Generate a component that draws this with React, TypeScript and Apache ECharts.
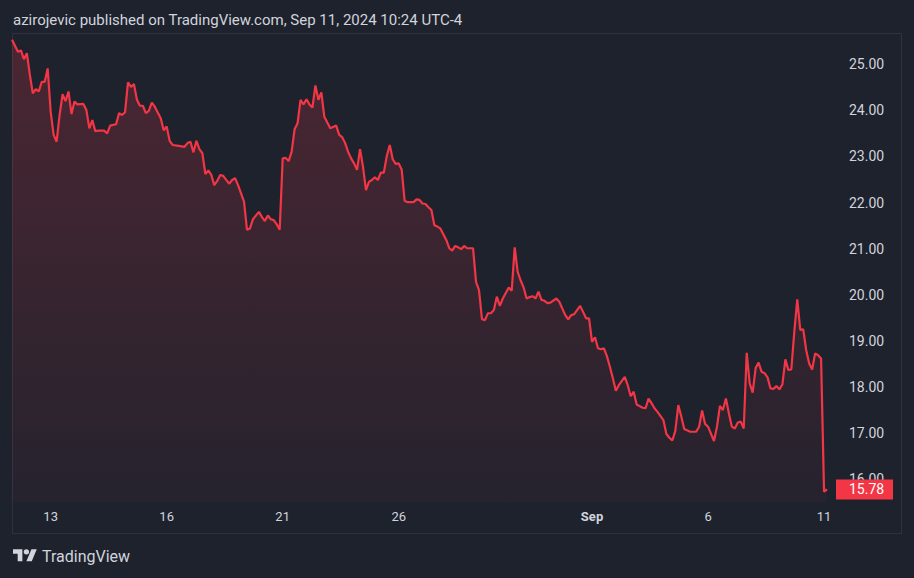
import React, { useEffect, useRef } from 'react';
import * as echarts from 'echarts';

// 30-minute bar index (13 bars per trading day, Aug 12 = day 0) and close price at that bar
const barIndex = [
  0, 2, 3, 4, 5, 6, 7, 8, 9, 10, 11, 12, 13, 14, 15, 16, 17, 18, 19, 20, 21, 22, 24, 25, 26, 27, 28, 29, 31, 32, 33, 35, 36, 37, 38, 39, 40, 41, 42, 43, 44, 45, 46, 47, 48, 50, 51, 52, 53, 54, 56, 58, 59, 60,
  61, 62, 63, 64, 65, 66, 67, 68, 69, 70, 71, 73, 74, 75, 76, 77, 78, 79, 80, 81, 83, 84, 85, 86, 87, 88, 89, 90,
  91, 92, 93, 94, 95, 96, 97, 98, 99, 100, 101, 102, 103, 104, 105, 107, 109, 110, 111, 112, 113, 114, 115, 116, 117, 118, 119, 120,
  121, 122, 123, 124, 125, 126, 127, 128, 129, 130, 131, 132, 133, 135, 136, 137, 138, 139, 140, 141, 142, 143, 144, 146, 147, 148, 149, 150,
  151, 152, 153, 155, 156, 157, 158, 159, 160, 161, 162, 163, 164, 165, 167, 168, 169, 170, 171, 172, 173, 174, 175, 176, 177, 178, 179, 180,
  181, 183, 184, 186, 187, 188, 189, 191, 192, 193, 194, 195, 196, 197, 198, 199, 200, 201, 202, 203, 204, 206, 207, 208, 209, 210,
  212, 213, 214, 215, 216, 217, 219, 220, 221, 222, 223, 224, 225, 226, 228, 230, 231, 232, 233, 234, 236, 237, 238, 239, 240,
  241, 242, 243, 244, 245, 246, 247, 248, 249, 250, 251, 252, 253, 254, 255, 256, 257, 258, 259, 260, 261, 262, 263, 264, 265, 266, 267, 268, 269, 270,
  271, 272, 273, 274,
];
const price = [
  25.53, 25.27, 25.30, 25.11, 25.24, 24.77, 24.37, 24.46, 24.41, 24.62, 24.62, 24.91, 23.97, 23.47, 23.32, 23.90, 24.35, 24.20, 24.41, 23.92, 24.19, 24.13, 24.14, 24.01, 23.61, 23.79, 23.55, 23.56, 23.56, 23.50, 23.67, 23.70, 23.94, 23.90, 23.96, 24.61, 24.51, 24.57, 24.23, 24.10, 24.10, 23.94, 23.99, 24.17, 24.08, 23.83, 23.57, 23.65, 23.34, 23.25, 23.23, 23.21, 23.29, 23.32,
  23.09, 23.34, 23.16, 23.07, 22.62, 22.70, 22.60, 22.38, 22.47, 22.60, 22.58, 22.41, 22.49, 22.53, 22.38, 22.20, 22.02, 21.41, 21.44, 21.64, 21.80, 21.69, 21.60, 21.72, 21.64, 21.62, 21.53, 21.41,
  22.96, 22.97, 22.90, 23.10, 23.59, 23.72, 24.23, 24.13, 24.24, 24.13, 24.06, 24.54, 24.23, 24.39, 23.86, 23.61, 23.67, 23.47, 23.42, 23.29, 23.10, 22.96, 22.85, 22.71, 23.16, 22.78, 22.27, 22.45,
  22.49, 22.55, 22.49, 22.65, 22.65, 23.01, 23.25, 22.94, 22.84, 22.85, 22.72, 22.04, 22.01, 22.01, 22.07, 22.06, 21.98, 21.97, 21.90, 21.84, 21.51, 21.48, 21.44, 21.19, 21.01, 20.96, 21.06, 21.03,
  20.99, 21.06, 21.01, 21.01, 20.28, 20.10, 19.47, 19.45, 19.60, 19.60, 19.67, 19.96, 19.76, 19.92, 20.16, 20.09, 21.03, 20.50, 20.31, 20.16, 19.92, 19.95, 19.97, 19.92, 20.07, 19.89, 19.87, 19.82,
  19.83, 19.92, 19.85, 19.56, 19.47, 19.56, 19.58, 19.76, 19.63, 19.49, 19.49, 18.98, 19.08, 18.84, 18.82, 18.84, 18.67, 18.44, 18.19, 17.92, 18.04, 18.22, 18.04, 17.80, 17.90, 17.62,
  17.55, 17.54, 17.75, 17.65, 17.54, 17.46, 17.28, 16.98, 16.90, 16.84, 17.05, 17.61, 17.36, 17.09, 17.03, 17.03, 17.14, 17.49, 17.20, 17.14, 16.83, 17.14, 17.59, 17.50, 17.75,
  17.43, 17.14, 17.10, 17.23, 17.25, 17.10, 18.74, 18.08, 17.88, 18.41, 18.53, 18.33, 18.30, 18.21, 17.97, 17.96, 18.02, 17.95, 18.06, 18.60, 18.37, 18.38, 19.20, 19.90, 19.24, 19.25, 18.80, 18.51, 18.38, 18.73,
  18.69, 18.62, 15.73, 15.78,
];

// x-axis labels at the first bar of the labelled trading days
const dayLabelBars = [13, 52, 91, 130, 195, 234, 273];
const dayLabels = ['13', '16', '21', '26', 'Sep', '6', '11'];

const lastPrice = 15.78;
const titleText = 'azirojevic published on TradingView.com, Sep 11, 2024 10:24 UTC-4';
const brandText = 'TradingView';

const BG = '#1e222d';
const TXT = '#d1d4dc';
const RED = '#f23645';
const FONT = 'Roboto, "Liberation Sans", sans-serif';

let logoRegistered = false;

export default function App() {
  const ref = useRef<HTMLDivElement>(null);

  useEffect(() => {
    if (!ref.current) return;
    if (!logoRegistered) {
      echarts.graphic.registerShape(
        'tvlogo',
        echarts.graphic.extendPath('M14 22H7V11H0V4h14v18zM28 22h-8l7.5-18h8L28 22zM24 8a4 4 0 1 1-8 0a4 4 0 1 1 8 0z', {})
      );
      logoRegistered = true;
    }
    const chart = echarts.init(ref.current, undefined, { renderer: 'svg' });
    const data = barIndex.map((b, i) => [b, price[i]]);

    chart.setOption({
      animation: false,
      backgroundColor: BG,
      grid: { left: 12, right: 84, top: 32, bottom: 75.7, containLabel: false },
      xAxis: {
        type: 'value',
        min: 0,
        max: 275,
        interval: 13,
        axisLine: { show: false },
        axisTick: { show: false },
        splitLine: { show: false },
        axisLabel: {
          color: TXT,
          fontFamily: FONT,
          fontSize: 13,
          margin: 8,
          formatter: (v: number) => {
            const k = dayLabelBars.indexOf(v);
            if (k < 0) return '';
            return dayLabels[k] === 'Sep' ? '{b|Sep}' : dayLabels[k];
          },
          rich: { b: { fontWeight: 'bold', color: TXT, fontFamily: FONT, fontSize: 13 } },
        },
      },
      yAxis: {
        type: 'value',
        position: 'right',
        min: 15.5,
        max: 25.7,
        interval: 0.5,
        axisLine: { show: false },
        axisTick: { show: false },
        splitLine: { show: false },
        axisLabel: {
          color: TXT,
          fontFamily: FONT,
          fontSize: 14,
          margin: 19,
          formatter: (v: number) => (Math.abs(v % 1) < 1e-9 && v >= 16 && v <= 25 ? v.toFixed(2) : ''),
        },
      },
      series: [
        {
          type: 'line',
          data,
          showSymbol: false,
          symbol: 'none',
          lineStyle: { color: RED, width: 2.2 },
          areaStyle: {
            origin: 'start',
            color: new echarts.graphic.LinearGradient(0, 0, 0, 1, [
              { offset: 0, color: 'rgba(242,54,69,0.30)' },
              { offset: 1, color: 'rgba(242,54,69,0.05)' },
            ]),
          },
          z: 3,
        },
      ],
    });

    const yLast = chart.convertToPixel({ yAxisIndex: 0 }, lastPrice) as number;

    chart.setOption({
      graphic: [
        {
          type: 'rect',
          shape: { x: 12.5, y: 33.5, width: 889, height: 500 },
          style: { fill: 'none', stroke: '#2e3240', lineWidth: 1 },
          z: 1,
          silent: true,
        },
        {
          type: 'text',
          x: 13,
          y: 20,
          style: { text: titleText, fill: TXT, font: `15px ${FONT}`, verticalAlign: 'middle', align: 'left' },
        },
        {
          type: 'rect',
          shape: { x: 836, y: yLast - 10, width: 57, height: 20 },
          style: { fill: RED },
          z: 10,
        },
        {
          type: 'text',
          x: 849,
          y: yLast,
          z: 11,
          style: { text: lastPrice.toFixed(2), fill: '#ffffff', font: `14px ${FONT}`, verticalAlign: 'middle', align: 'left' },
        },
        {
          type: 'tvlogo',
          x: 13,
          y: 546.5,
          scaleX: 0.67,
          scaleY: 0.67,
          style: { fill: TXT },
        },
        {
          type: 'text',
          x: 42,
          y: 556,
          style: { text: brandText, fill: TXT, font: `16px "Liberation Sans Narrow", ${FONT}`, verticalAlign: 'middle', align: 'left' },
        },
      ],
    });

    return () => chart.dispose();
  }, []);

  return (
    <div
      ref={ref}
      style={{ position: 'fixed', left: 0, top: 0, width: 914, height: 578 }}
    />
  );
}
